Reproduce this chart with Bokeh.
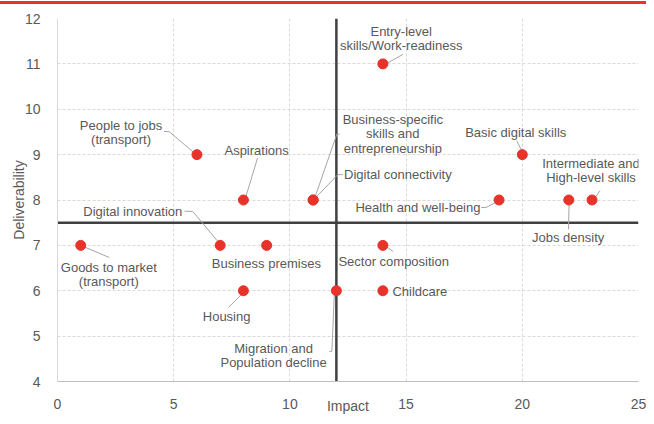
from bokeh.plotting import figure
from bokeh.models import Span, FixedTicker, ColumnDataSource, Div
from bokeh.layouts import column
from bokeh.core.properties import value
from bokeh.embed import file_html
from bokeh.resources import INLINE

# ---------------- data ----------------
factors = [
    "Entry-level\nskills/Work-readiness",
    "People to jobs\n(transport)",
    "Aspirations",
    "Business-specific\nskills and\nentrepreneurship",
    "Digital connectivity",
    "Basic digital skills",
    "Intermediate and\nHigh-level skills",
    "Jobs density",
    "Health and well-being",
    "Digital innovation",
    "Goods to market\n(transport)",
    "Business premises",
    "Sector composition",
    "Housing",
    "Childcare",
    "Migration and\nPopulation decline",
]
impact = [14, 6, 8, 11, 11, 20, 23, 22, 19, 7, 1, 9, 14, 8, 14, 12]
deliverability = [11, 9, 8, 8, 8, 9, 8, 8, 8, 7, 7, 7, 7, 6, 6, 6]
x_ticks = [0, 5, 10, 15, 20, 25]
y_ticks = [4, 5, 6, 7, 8, 9, 10, 11, 12]
impact_threshold = 12
deliverability_threshold = 7.5

# ---------------- layout (label placement, pixels relative to point) ----------------
label_dx = [18.3, -75.9, 13.2, 79.7, 84.7, -6.6, -1, -0.6, -81.1, -87.4, 28.1, -0.3, 10.8, -16.8, 37, -62.8]
label_dy = [-25.6, -22.2, -49.8, -66.2, -25.5, -21.7, -29.6, 37.5, 7.8, -33.8, 29.2, 17.9, 16.6, 26, 1, 64.4]
leaders = [
    [(20.3, -9.6), (2.3, 0.4)],
    [(-32.9, -23.2), (-27.9, -23.2), (-2.9, -1.9)],
    [(14.2, -42.5), (1.9, -1.5)],
    [(26.4, -66.2), (23.7, -66.2), (1.4, -1.5)],
    [(29.7, -25.5), (24.7, -25.5), (2.7, -2.5)],
    [(-5.6, -14), (-0.6, -4)],
    [(8, -9.5), (2, -0.5)],
    [(0.4, 0.5), (-0.3, 29.5)],
    [(-18, 7.5), (-13, 7.5), (-1.5, 1.5)],
    [(-35.7, -34.4), (-27.4, -34.1), (-1.4, -2.8)],
    [(2.8, 1.2), (28.5, 12.2)],
    None,
    [(2.6, 0.6), (10.3, 6.2)],
    [(-14.8, 16.6), (-1.5, 3.3)],
    None,
    [(-7.1, 61), (-4.5, 61), (-2.1, 4.9)],
]

W, H = 646, 412
BL, BR, BT, BB = 57, 8, 14, 33
X0, X1 = 0, 25
Y0, Y1 = 4, 12
frame_w = W - BL - BR
frame_h = H - BT - BB
px_x = frame_w / (X1 - X0)
px_y = frame_h / (Y1 - Y0)

TEXT = "#595959"
FONT = "Liberation Sans"
RED = "#e8332a"

p = figure(width=W, height=H, x_range=(X0, X1), y_range=(Y0, Y1),
           output_backend="svg", toolbar_location=None,
           min_border_left=BL, min_border_right=BR, min_border_top=BT, min_border_bottom=BB)
p.outline_line_color = None
p.background_fill_color = "white"
p.border_fill_color = "white"

# grid
for g in (p.xgrid, p.ygrid):
    g.grid_line_color = "#d9d9d9"
    g.grid_line_dash = "3 2"
    g.grid_line_width = 1
p.xaxis.ticker = FixedTicker(ticks=x_ticks)
p.yaxis.ticker = FixedTicker(ticks=y_ticks)
p.xgrid.ticker = FixedTicker(ticks=x_ticks)
p.ygrid.ticker = FixedTicker(ticks=y_ticks)

for ax in (p.xaxis, p.yaxis):
    ax.major_tick_line_color = None
    ax.minor_tick_line_color = None
    ax.major_label_text_font = FONT
    ax.major_label_text_font_size = "14px"
    ax.major_label_text_color = TEXT
    ax.axis_label_text_font = FONT
    ax.axis_label_text_font_size = "14px"
    ax.axis_label_text_color = TEXT
    ax.axis_label_text_font_style = "normal"
p.xaxis.axis_label = "Impact"
p.yaxis.axis_label = "Deliverability"
p.xaxis.axis_line_color = "#bfbfbf"
p.yaxis.axis_line_color = "#d9d9d9"
p.xaxis.major_label_standoff = 11
p.yaxis.major_label_standoff = 11
p.xaxis.axis_label_standoff = -14
p.yaxis.axis_label_standoff = -5

# quadrant lines
p.add_layout(Span(location=impact_threshold, dimension="height", line_color="#404040",
                  line_width=2.5, level="underlay"))
p.add_layout(Span(location=deliverability_threshold, dimension="width", line_color="#404040",
                  line_width=2.5, level="underlay"))

# leader lines
xs, ys = [], []
for xi, yi, ld in zip(impact, deliverability, leaders):
    if ld is None:
        continue
    xs.append([xi + dx / px_x for dx, dy in ld])
    ys.append([yi - dy / px_y for dx, dy in ld])
p.multi_line(xs=xs, ys=ys, line_color="#a6a6a6", line_width=1)

src = ColumnDataSource(dict(x=impact, y=deliverability, label=factors,
                            dx=label_dx, dy=label_dy))
p.scatter("x", "y", source=src, size=10, fill_color=RED, line_color=RED)
p.text("x", "y", text="label", source=src, x_offset="dx", y_offset="dy",
       text_align="center", text_baseline="middle", text_font=value(FONT),
       text_font_size="13px", text_color=TEXT, text_line_height=0.95)

bar = Div(text="", width=W, height=3, margin=(1, 0, 0, 0), styles={"background-color": RED})
layout = column(bar, p, spacing=0)

open("out.html", "w").write(file_html(layout, INLINE))
